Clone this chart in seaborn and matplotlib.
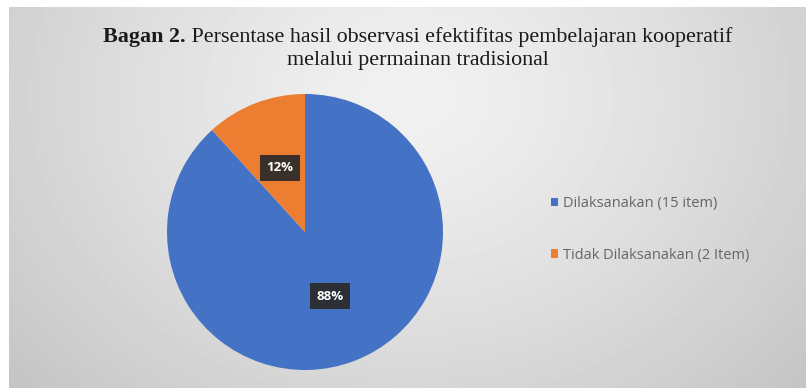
import numpy as np
import matplotlib
matplotlib.use("Agg")
import matplotlib.pyplot as plt
import seaborn as sns

# ---- data ----
categories = ["Dilaksanakan (15 item)", "Tidak Dilaksanakan (2 Item)"]
values = [15, 2]
colors = ["#4472C4", "#ED7D31"]
title_bold = "Bagan 2."
title_line1 = " Persentase hasil observasi efektifitas pembelajaran kooperatif"
title_line2 = "melalui permainan tradisional"

sns.set_style("white")
plt.rcParams['font.family'] = ['DejaVu Sans']

W, H = 806, 388
fig = plt.figure(figsize=(W / 100, H / 100), dpi=100)
fig.patch.set_facecolor("white")

def fx(px):
    return px / W

def fy(py):
    return 1 - py / H

# background gradient panel
bg = fig.add_axes([fx(9), 0, 1 - fx(9), 1 - 7 / H])
yy, xx = np.mgrid[0:381, 0:797]
cx, cy = 400, 90
d = np.sqrt(((xx - cx) / 520) ** 2 + ((yy - cy) / 420) ** 2)
val = 0.945 - 0.17 * np.clip(d, 0, 1.3) ** 1.3
bg.imshow(val, cmap="gray", vmin=0, vmax=1, aspect="auto", interpolation="bilinear")
bg.set_axis_off()

# pie
r = 138
pcx, pcy = 305, 232
ax = fig.add_axes([fx(pcx - r), fy(pcy + r), 2 * r / W, 2 * r / H])
wedges, texts, autotexts = ax.pie(
    values, colors=colors, startangle=90, counterclock=False,
    autopct=lambda p: f"{p:.0f}%", pctdistance=0.5,
    wedgeprops=dict(linewidth=0),
    textprops=dict(color="white", fontsize=9.5, fontweight="bold", family="Open Sans"),
)
for t in autotexts:
    t.set_bbox(dict(boxstyle="square,pad=0.5", facecolor="#2a2a2a", edgecolor="none", alpha=0.92))
ax.set_xlim(-1, 1)
ax.set_ylim(-1, 1)
ax.set_aspect("auto")
ax.set_axis_off()

# legend
leg = fig.legend(
    wedges, categories, loc="upper left", bbox_to_anchor=(fx(538), fy(183)),
    frameon=False, labelspacing=2.5, handlelength=0.5, handleheight=0.5,
    handletextpad=0.3, prop=dict(family="Open Sans", size=10.5),
)
for t in leg.get_texts():
    t.set_color("#666666")

# title with mixed weight
fig.canvas.draw()
renderer = fig.canvas.get_renderer()
tfont = dict(family="Liberation Serif", size=15.8, color="#1a1a1a")
tb = fig.text(0, fy(37), title_bold, fontweight="bold", va="center", ha="left", **tfont)
tr = fig.text(0, fy(37), title_line1, va="center", ha="left", **tfont)
wb = tb.get_window_extent(renderer).width
wr = tr.get_window_extent(renderer).width
total = wb + wr
start = 418 - total / 2
tb.set_x(fx(start))
tr.set_x(fx(start + wb))
fig.text(fx(418), fy(61), title_line2, va="center", ha="center", **tfont)

fig.savefig("out.png", dpi=100)
